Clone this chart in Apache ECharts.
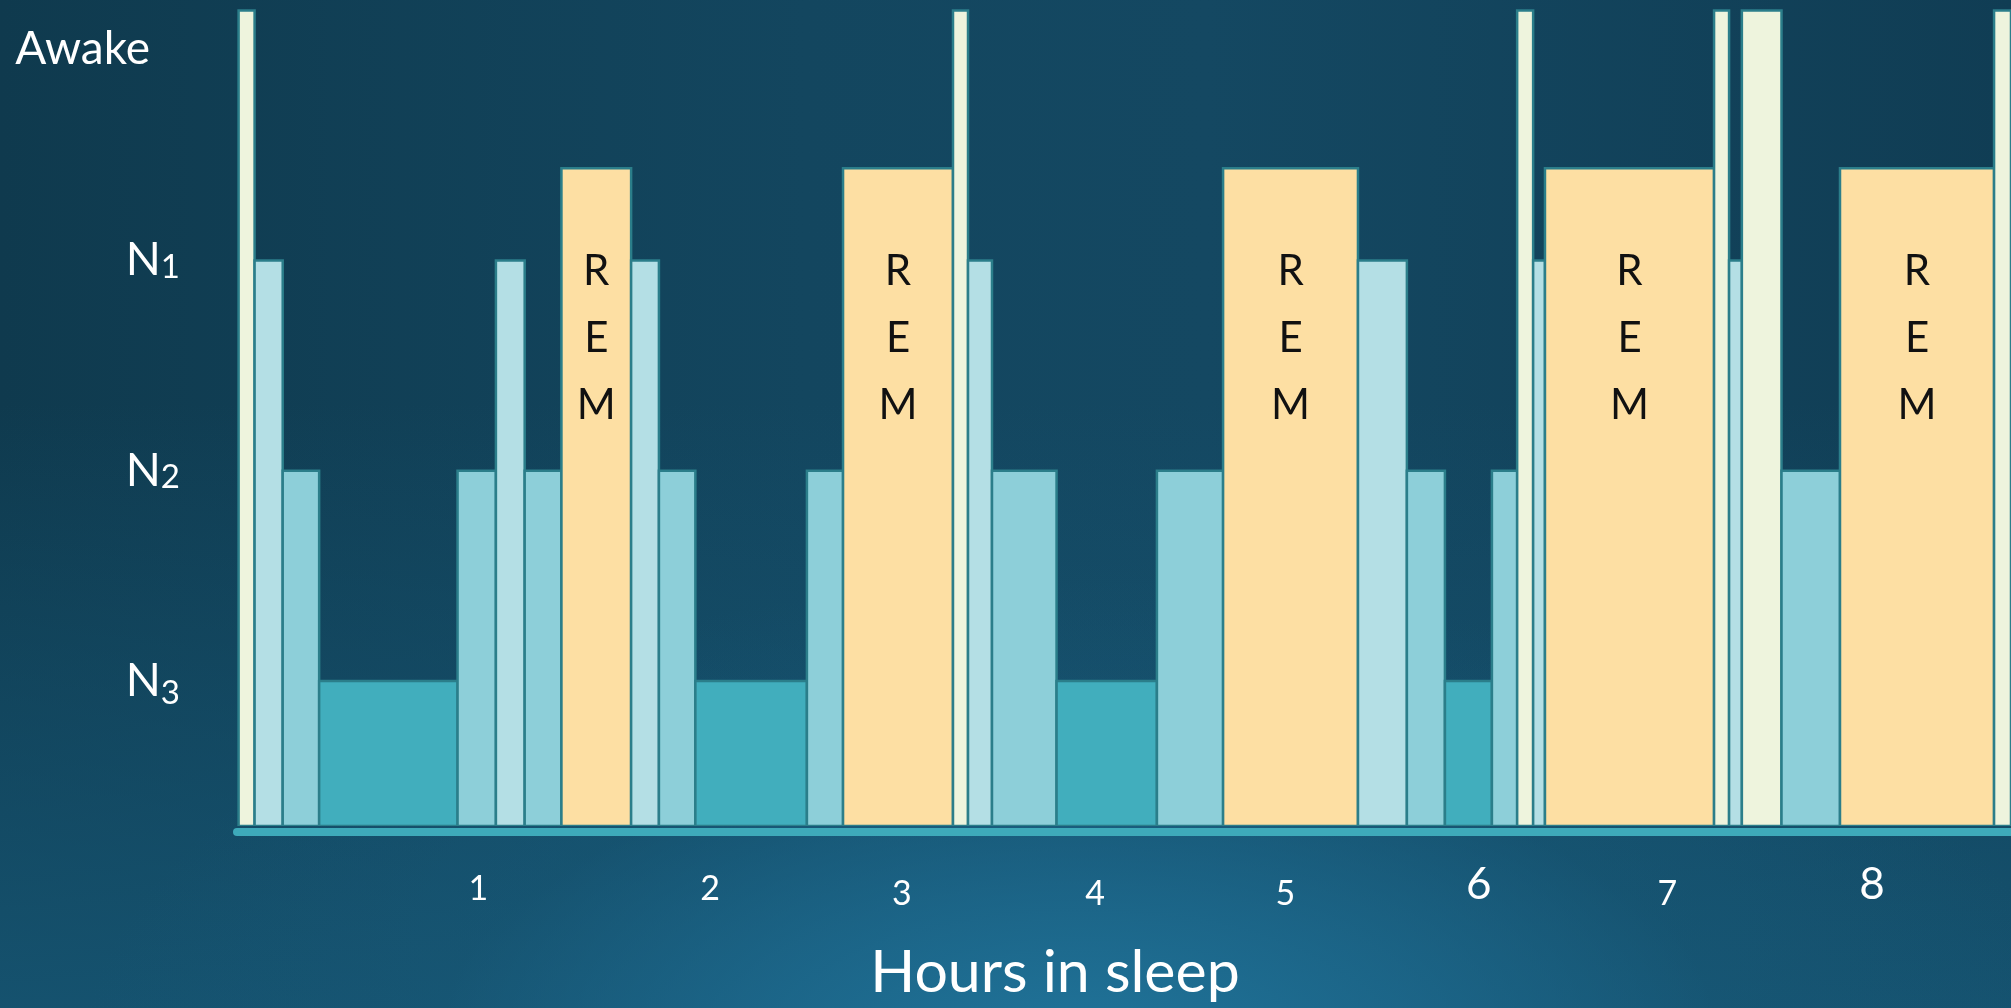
<!DOCTYPE html>
<html>
<head>
<meta charset="utf-8">
<title>Hours in sleep</title>
<script src="https://cdn.jsdelivr.net/npm/echarts@6/dist/echarts.min.js"></script>
<style>
  html, body { margin: 0; padding: 0; background: #123f56; }
  #chart {
    width: 2011px;
    height: 1008px;
    /* deep teal backdrop, glowing lighter towards the bottom centre */
    background:
      radial-gradient(ellipse 1000px 480px at 1080px 1060px,
        rgba(33, 119, 158, 0.95) 0%, rgba(30, 108, 145, 0.7) 35%,
        rgba(25, 92, 124, 0.3) 65%, rgba(20, 75, 100, 0) 100%),
      linear-gradient(to bottom, rgba(22, 86, 116, 0) 0%, rgba(22, 86, 116, 0) 40%,
        rgba(22, 86, 116, 0.85) 100%),
      linear-gradient(to right, #0F3A4E 0%, #13465F 40%, #144862 60%, #103D54 100%);
  }
</style>
</head>
<body>
<div id="chart"></div>
<script>
// Sleep stages and the level each one is drawn up to
const stageNames = ['Awake', 'REM', 'N1', 'N2', 'N3'];
const stageLevels = [4.19, 3.44, 3, 2, 1];

// Stages named on the vertical axis
const stageAxisLabels = ['Awake', 'N1', 'N2', 'N3'];

// The night as consecutive segments: boundaries in minutes, and the stage of each segment
const segmentEdges = [0.5, 5.5, 14.3, 25.7, 69, 81, 90, 101.5, 123.3, 132,
  143.4, 178.3, 189.6, 224, 228.7, 236.2, 256.4, 287.8, 308.5, 350.7,
  366, 377.9, 392.6, 400.5, 405.5, 409.2, 462.1, 466.8, 470.8, 483.2,
  501.5, 549.7, 555];
const segmentStages = ['Awake', 'N1', 'N2', 'N3', 'N2', 'N1', 'N2', 'REM', 'N1', 'N2',
  'N3', 'N2', 'REM', 'Awake', 'N1', 'N2', 'N3', 'N2', 'REM', 'N1',
  'N2', 'N3', 'N2', 'Awake', 'N1', 'REM', 'Awake', 'N1', 'Awake', 'N2',
  'REM', 'Awake'];

// Hour labels along the bottom and the minute each one sits at
const hourLabels = ['1', '2', '3', '4', '5', '6', '7', '8'];
const hourLabelMinutes = [75.5, 148, 208, 268.5, 328, 388.5, 447.5, 511.5];

const X_MIN = 0, X_MAX = 555;
const Y_MIN = 0.31, Y_MAX = 4.24;

const stageColors = {
  Awake: '#EEF4DD',
  REM: '#FDDFA3',
  N1: '#B4DFE5',
  N2: '#8DCFD9',
  N3: '#41AEBD'
};
const FONT = 'Lato, "Open Sans", sans-serif';

const segments = segmentStages.map(function (s, i) {
  const k = stageNames.indexOf(s);
  return [segmentEdges[i], segmentEdges[i + 1], stageLevels[k], k];
});

function nearestIndex(arr, v) {
  let best = 0;
  for (let i = 1; i < arr.length; i++) {
    if (Math.abs(arr[i] - v) < Math.abs(arr[best] - v)) best = i;
  }
  return best;
}

// Old-style figures: some digits drop below the line, some rise above it
function figureStyle(ch) {
  if ('3457'.indexOf(ch) >= 0) return 'lo';
  if ('68'.indexOf(ch) >= 0) return 'hi';
  return 'mid';
}

function renderItem(params, api) {
  const k = api.value(3);
  const stage = stageNames[k];
  const p0 = api.coord([api.value(0), Y_MIN]);
  const p1 = api.coord([api.value(1), api.value(2)]);
  const rect = {
    type: 'rect',
    shape: { x: p0[0], y: p1[1], width: p1[0] - p0[0], height: p0[1] - p1[1] },
    style: { fill: stageColors[stage], stroke: '#2B7E8A', lineWidth: 2.5 }
  };
  if (stage !== 'REM') return rect;
  return {
    type: 'group',
    children: [rect, {
      type: 'text',
      style: {
        text: 'R\nE\nM',
        x: (p0[0] + p1[0]) / 2,
        y: p1[1] + 170,
        align: 'center',
        verticalAlign: 'middle',
        font: '42px ' + FONT,
        lineHeight: 67,
        fill: '#111111'
      }
    }]
  };
}

const chart = echarts.init(document.getElementById('chart'), null, { renderer: 'canvas' });

chart.setOption({
  backgroundColor: 'transparent',
  animation: false,
  grid: { left: 237, right: 0, top: 0, bottom: 182, containLabel: false },
  xAxis: {
    type: 'value',
    min: X_MIN,
    max: X_MAX,
    offset: 6,
    splitLine: { show: false },
    axisTick: { show: false },
    axisLine: { show: true, lineStyle: { color: '#3EAABA', width: 8 } },
    axisLabel: {
      customValues: hourLabelMinutes,
      margin: 40,
      formatter: function (v) {
        const t = hourLabels[nearestIndex(hourLabelMinutes, v)];
        return '{' + figureStyle(t) + '|' + t + '}';
      },
      rich: {
        mid: { fontFamily: FONT, fontSize: 34, lineHeight: 34, color: '#FFFFFF' },
        lo: { fontFamily: FONT, fontSize: 34, lineHeight: 44, color: '#FFFFFF' },
        hi: { fontFamily: FONT, fontSize: 44, lineHeight: 26, color: '#FFFFFF' }
      }
    },
    name: 'Hours in sleep',
    nameLocation: 'middle',
    nameGap: 111,
    nameTextStyle: {
      fontFamily: FONT, fontSize: 59, color: '#FFFFFF',
      padding: [0, 138, 0, 0]
    }
  },
  yAxis: {
    type: 'value',
    min: Y_MIN,
    max: Y_MAX,
    splitLine: { show: false },
    axisTick: { show: false },
    axisLine: { show: false },
    axisLabel: {
      customValues: stageAxisLabels.map(function (s) { return stageLevels[stageNames.indexOf(s)]; }),
      margin: 57,
      formatter: function (v) {
        const name = stageNames[nearestIndex(stageLevels, v)];
        if (name === 'Awake') return '{aw|Awake}';
        const d = name.slice(1);
        return '{n|N}{' + (figureStyle(d) === 'lo' ? 'dlo' : 'd') + '|' + d + '}';
      },
      rich: {
        aw: { fontFamily: FONT, fontSize: 46, color: '#FFFFFF', padding: [78, 30, 0, 0] },
        n: { fontFamily: FONT, fontSize: 46, color: '#FFFFFF' },
        d: { fontFamily: FONT, fontSize: 33, color: '#FFFFFF', verticalAlign: 'bottom' },
        dlo: { fontFamily: FONT, fontSize: 33, color: '#FFFFFF', padding: [24, 0, 0, 0] }
      }
    }
  },
  series: [{
    type: 'custom',
    renderItem: renderItem,
    clip: true,
    encode: { x: [0, 1], y: 2 },
    data: segments
  }]
});
</script>
</body>
</html>
